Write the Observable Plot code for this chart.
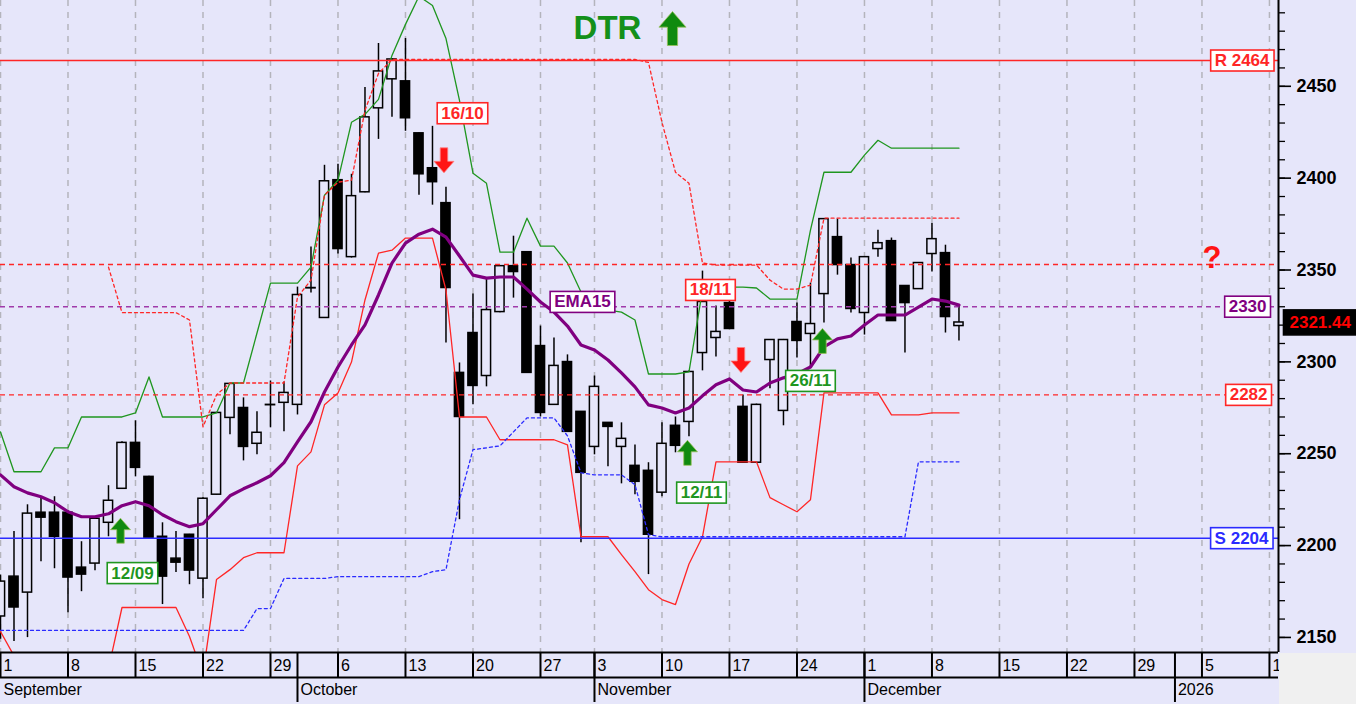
<!DOCTYPE html>
<html><head><meta charset="utf-8">
<script src="https://cdn.jsdelivr.net/npm/d3@7"></script>
<script src="https://cdn.jsdelivr.net/npm/@observablehq/plot@0.6"></script>
<style>
html,body{margin:0;padding:0;background:#f0f0f0;}
#chart svg{display:block;}
</style></head><body><div id="chart"></div>
<script>
// ---------------- DATA ----------------
const dates = ["2025-09-01","2025-09-02","2025-09-03","2025-09-04","2025-09-05","2025-09-08","2025-09-09","2025-09-10","2025-09-11","2025-09-12","2025-09-15","2025-09-16","2025-09-17","2025-09-18","2025-09-19","2025-09-22","2025-09-23","2025-09-24","2025-09-25","2025-09-26","2025-09-29","2025-09-30",
"2025-10-01","2025-10-02","2025-10-03","2025-10-06","2025-10-07","2025-10-08","2025-10-09","2025-10-10","2025-10-13","2025-10-14","2025-10-15","2025-10-16","2025-10-17","2025-10-20","2025-10-21","2025-10-22","2025-10-23","2025-10-24","2025-10-27","2025-10-28","2025-10-29","2025-10-30",
"2025-11-03","2025-11-04","2025-11-05","2025-11-06","2025-11-07","2025-11-10","2025-11-11","2025-11-12","2025-11-13","2025-11-14","2025-11-17","2025-11-18","2025-11-19","2025-11-20","2025-11-21","2025-11-24","2025-11-25","2025-11-26","2025-11-27","2025-11-28",
"2025-12-01","2025-12-02","2025-12-03","2025-12-04","2025-12-05","2025-12-08","2025-12-09","2025-12-10"];
const futureDates = ["2025-12-11","2025-12-12","2025-12-15","2025-12-16","2025-12-17","2025-12-18","2025-12-19","2025-12-22","2025-12-23","2025-12-24","2025-12-25","2025-12-26","2025-12-29","2025-12-30","2025-12-31","2026-01-01","2026-01-02","2026-01-05","2026-01-06","2026-01-07","2026-01-08","2026-01-09","2026-01-12"];

const open = [2161.4,2183.1,2174.4,2217.9,2217.9,2217.9,2188.0,2190.2,2212.4,2230.9,
2255.9,2237.4,2204.8,2192.9,2205.9,2182.0,2227.7,2269.5,2274.9,2255.4,
2276.6,2277.7,2276.6,2340.2,2323.9,2398.9,2357.0,2392.3,2438.0,2453.8,
2452.7,2424.4,2405.4,2386.4,2294.0,2315.7,2292.3,2327.1,2352.1,2359.7,
2308.6,2276.6,2299.9,2272.8,2253.7,2266.8,2253.7,2243.4,2240.7,2228.8,
2265.2,2267.3,2304.8,2313.0,2332.0,2275.5,2245.1,2301.0,2273.3,2321.7,
2315.2,2336.9,2367.9,2352.7,2326.6,2361.4,2365.7,2341.3,2339.6,2358.7,
2359.2,2319.5];
const high = [2184.0,2207.6,2222.2,2226.6,2226.6,2219.0,2202.1,2214.8,2232.6,2256.5,
2267.9,2237.8,2212.4,2207.6,2206.1,2226.0,2272.5,2288.2,2280.4,2272.8,
2289.6,2289.1,2340.7,2362.5,2407.0,2407.6,2402.1,2449.4,2473.3,2465.0,
2476.0,2424.6,2428.2,2395.1,2299.4,2336.9,2345.1,2352.5,2368.4,2360.0,
2319.5,2313.0,2303.8,2273.0,2292.3,2267.0,2266.8,2254.8,2245.1,2266.8,
2270.0,2295.0,2349.4,2330.4,2336.0,2282.0,2277.0,2312.2,2312.2,2332.0,
2342.9,2378.0,2377.7,2356.5,2357.3,2371.7,2367.4,2341.5,2354.0,2375.5,
2363.5,2330.4];
const low = [2149.0,2147.8,2149.9,2191.2,2187.4,2163.5,2174.9,2186.3,2204.8,2230.5,
2237.4,2204.0,2167.9,2185.3,2178.7,2171.1,2227.5,2260.3,2246.1,2249.4,
2264.1,2261.9,2271.1,2337.5,2323.7,2358.7,2356.5,2392.1,2421.1,2433.1,
2425.5,2390.7,2385.3,2310.3,2214.1,2276.6,2286.4,2326.8,2334.7,2293.8,
2270.0,2276.4,2261.6,2201.6,2249.4,2242.9,2233.6,2227.7,2184.2,2226.6,
2250.5,2259.2,2295.1,2302.7,2317.7,2245.0,2244.8,2285.3,2265.2,2302.1,
2297.2,2321.1,2347.2,2326.6,2314.6,2357.0,2322.0,2304.8,2339.4,2348.9,
2315.7,2311.4];
const close = [2180.4,2166.3,2217.4,2215.2,2204.8,2182.6,2184.2,2214.6,2224.4,2255.9,
2242.3,2204.3,2183.1,2190.7,2186.4,2225.5,2272.2,2288.0,2253.7,2261.4,
2276.4,2283.1,2336.4,2340.0,2398.3,2361.4,2390.2,2433.1,2458.1,2464.6,
2432.6,2402.1,2397.8,2340.2,2270.0,2286.9,2328.2,2352.1,2348.9,2294.0,
2272.2,2297.8,2261.9,2239.6,2286.4,2264.6,2258.1,2234.7,2205.9,2255.4,
2254.3,2294.5,2332.6,2316.3,2317.9,2245.1,2276.6,2311.9,2311.9,2311.4,
2320.6,2377.7,2352.7,2328.8,2357.0,2364.6,2322.2,2332.0,2353.8,2366.8,
2324.4,2321.44];

const ema15 = [2238.5,2232.0,2228.7,2226.6,2223.3,2218.4,2215.7,2215.7,2217.3,2221.7,
2223.9,2221.7,2216.8,2213.0,2210.3,2211.9,2219.5,2227.1,2230.9,2234.2,
2238.0,2245.1,2256.5,2267.4,2283.6,2297.2,2309.2,2320.1,2336.4,2353.8,
2364.6,2369.5,2372.2,2367.9,2357.6,2347.2,2345.6,2346.2,2346.2,2339.6,
2332.6,2327.1,2319.5,2309.2,2306.5,2301.0,2294.0,2286.4,2276.6,2274.9,
2272.2,2274.9,2281.5,2287.5,2290.7,2284.7,2283.6,2288.5,2291.3,2293.4,
2297.2,2308.1,2312.5,2314.1,2320.1,2325.5,2325.5,2325.5,2329.8,2334.2,
2333.1,2330.9];
const upperBand = [2261.9,2240.2,2240.2,2240.2,2253.2,2253.2,2270.0,2270.0,2270.0,2270.0,
2272.2,2291.8,2270.0,2270.0,2270.0,2270.0,2272.2,2288.5,2288.5,2315.7,
2342.9,2342.9,2342.9,2351.6,2390.7,2398.9,2430.4,2434.7,2442.9,2466.8,
2483.7,2499.0,2494.0,2476.0,2442.3,2402.7,2397.2,2359.7,2359.7,2378.2,
2363.0,2363.0,2353.8,2338.0,2333.7,2328.2,2327.1,2322.8,2293.4,2293.4,
2293.4,2294.5,2339.1,2340.7,2340.7,2340.7,2340.2,2334.2,2334.2,2334.2,
2371.7,2403.2,2403.2,2403.2,2412.5,2420.6,2416.3,2416.3,2416.3,2416.3,
2416.3,2416.3];
const lowerBand = [2153.2,2140.0,2125.0,2125.0,2125.0,2125.0,2125.0,2125.0,2133.0,2166.3,
2166.3,2166.3,2166.3,2166.3,2150.5,2130.0,2181.5,2186.9,2193.4,2196.1,
2196.1,2196.1,2243.4,2251.0,2276.6,2283.1,2299.9,2333.7,2359.2,2360.8,
2367.4,2367.4,2367.4,2339.1,2270.0,2270.0,2270.0,2257.6,2257.6,2257.6,
2257.6,2257.6,2254.8,2204.8,2204.8,2204.8,2195.1,2185.8,2176.0,2170.6,
2167.9,2190.0,2204.8,2245.6,2245.6,2245.6,2245.6,2226.1,2222.2,2218.4,
2225.0,2283.1,2283.1,2283.1,2283.1,2283.1,2271.1,2271.1,2271.1,2272.2,
2272.2,2272.2];
const highestClose = [null,null,null,null,null,null,null,null,2351.6,2326.8,
2326.8,2326.8,2326.8,2326.8,2322.8,2264.6,2282.0,2288.5,2288.5,2288.5,
2288.5,2288.5,2335.3,2344.5,2390.7,2397.8,2398.9,2436.9,2457.0,2464.6,
2464.6,2464.6,2464.6,2464.6,2464.6,2464.6,2464.6,2464.6,2464.6,2464.6,
2464.6,2464.6,2464.6,2464.6,2464.6,2464.6,2464.6,2464.6,2463.0,2430.4,
2403.2,2397.2,2353.8,2352.7,2352.7,2352.7,2352.7,2344.5,2339.6,2339.6,
2341.8,2378.2,2378.2,2378.2,2378.2,2378.2,2378.2,2378.2,2378.2,2378.2,
2378.2,2378.2];
const lowestClose = [2153.8,2153.8,2153.8,2153.8,2153.8,2153.8,2153.8,2153.8,2153.8,2153.8,
2153.8,2153.8,2153.8,2153.8,2153.8,2153.8,2153.8,2153.8,2153.8,2165.7,
2165.7,2182.1,2182.1,2182.1,2182.1,2183.1,2183.1,2183.1,2183.1,2183.1,
2183.1,2183.1,2185.8,2186.9,2225.0,2252.2,2253.2,2254.3,2261.9,2269.5,
2269.5,2269.5,2259.7,2239.6,2238.5,2238.5,2238.5,2233.1,2205.9,2204.8,
2204.8,2204.8,2204.8,2204.8,2204.8,2204.8,2204.8,2204.8,2204.8,2204.8,
2204.8,2204.8,2204.8,2204.8,2204.8,2204.8,2204.8,2204.8,2245.6,2245.6,
2245.6,2245.6];

// signals
const signalDates = ["2025-09-12","2025-10-16","2025-11-12","2025-11-18","2025-11-26"];
const signalTypes = ["buy","sell","buy","sell","buy"];
const signalArrowPrice = [2208.1, 2409.7, 2250.5, 2301.0, 2311.4];
const signalLabelPrice = [2185.0, 2435.3, 2228.8, 2339.1, 2289.6];

// horizontal levels
const resistance = 2464, support = 2204;
const upperLevel = 2353, lowerLevel = 2282, emaLevel = 2330;
const lastPrice = 2321.44;
const ticker = "DTR";
const emaName = "EMA15";
const emaLabelDate = "2025-10-30";
const emaLabelPrice = 2332.6;
const yTicksMajor = [2150, 2200, 2250, 2300, 2350, 2400, 2450];
const yDomain = [2141.8, 2496.7];

// ---------------- BUILD ----------------
const BG = "#e6e6fa";
const RED = "#ff2626", GREEN = "#1f961f", BLUE = "#2b2bff", PURPLE = "#800080";
const allDates = dates.concat(futureDates);
const idxOf = new Map(allDates.map((d, i) => [d, i]));
const parse = d3.utcParse("%Y-%m-%d");
const days = allDates.map((d, i) => ({i, t: parse(d)}));
const weekTicks = days.filter((d, k) => k === 0 || d.t.getUTCDay() < days[k-1].t.getUTCDay() || (d.t - days[k-1].t) >= 7 * 864e5)
  .map(d => ({i: d.i, label: String(d.t.getUTCDate())}));
const monthTicks = days.filter((d, k) => k === 0 || d.t.getUTCMonth() !== days[k-1].t.getUTCMonth())
  .map(d => ({i: d.i, label: d.t.getUTCMonth() === 0 ? String(d.t.getUTCFullYear()) : d3.utcFormat("%B")(d.t)}));

const rows = dates.map((d, i) => ({i, date: d, open: open[i], high: high[i], low: low[i], close: close[i],
  ema: ema15[i], upper: upperBand[i], lower: lowerBand[i], hc: highestClose[i], lc: lowestClose[i]}));
const signals = signalDates.map((d, k) => ({i: idxOf.get(d), type: signalTypes[k], arrow: signalArrowPrice[k],
  labelY: signalLabelPrice[k], label: d3.utcFormat("%d/%m")(parse(d))}));

function arrow(dir) {
  const pts = [[0,-1],[0.8,-0.08],[0.3,-0.08],[0.3,1],[-0.3,1],[-0.3,-0.08],[-0.8,-0.08]];
  return {draw(ctx, size) {
    const r = Math.sqrt(size / Math.PI);
    pts.forEach(([x, y], k) => k ? ctx.lineTo(x * r, dir * y * r) : ctx.moveTo(x * r, dir * y * r));
    ctx.closePath();
  }};
}
const upArrow = arrow(1), downArrow = arrow(-1);

const labelDx = {"12/09": 10.5, "16/10": 16.5, "12/11": 12.5, "18/11": -32.5, "26/11": -13.5};
const signalLabelMarks = signals.map(s => Plot.text([s], {
  x: "i", y: "labelY", text: "label", dx: labelDx[s.label],
  fill: s.type === "buy" ? GREEN : RED, fontWeight: "bold", fontSize: 17,
  className: s.type === "buy" ? "boxgreen" : "boxred"
}));

const xDomain = [0, allDates.length - 0.33];
const font = "'Liberation Sans', Arial, sans-serif";

const plot = Plot.plot({
  width: 1356, height: 704,
  marginLeft: 0, marginRight: 78, marginTop: 0, marginBottom: 52,
  style: {background: BG, fontFamily: font, fontSize: "15px"},
  x: {type: "linear", domain: xDomain, axis: null},
  y: {domain: yDomain, axis: null},
  marks: [
    // vertical weekly grid
    Plot.ruleX(weekTicks, {x: "i", stroke: "#b4b4bc", strokeWidth: 1.5, strokeDasharray: "6,6"}),
    // candles
    Plot.ruleX(rows, {x: "i", y1: "low", y2: "high", stroke: "#000", strokeWidth: 1.5}),
    Plot.rect(rows.filter(d => d.close >= d.open), {x1: d => d.i - 0.34, x2: d => d.i + 0.34, y1: "open", y2: "close", fill: BG, stroke: "#000", strokeWidth: 1.5}),
    Plot.rect(rows.filter(d => d.close < d.open), {x1: d => d.i - 0.34, x2: d => d.i + 0.34, y1: "open", y2: "close", fill: "#000", stroke: "#000", strokeWidth: 1.5}),
    // bands
    Plot.line(rows, {x: "i", y: "upper", stroke: GREEN, strokeWidth: 1.3, clip: true}),
    Plot.line(rows, {x: "i", y: "lower", stroke: RED, strokeWidth: 1.3, clip: true}),
    Plot.line(rows, {x: "i", y: "hc", stroke: RED, strokeWidth: 1.3, strokeDasharray: "3,3", clip: true}),
    Plot.line(rows, {x: "i", y: "lc", stroke: BLUE, strokeWidth: 1.3, strokeDasharray: "3,3", clip: true}),
    // horizontal levels
    Plot.ruleY([upperLevel, lowerLevel], {stroke: RED, strokeWidth: 1.3, strokeDasharray: "5,4"}),
    Plot.ruleY([emaLevel], {stroke: "#a03aaa", strokeWidth: 1.3, strokeDasharray: "5,4"}),
    Plot.ruleY([resistance], {stroke: RED, strokeWidth: 1.6}),
    Plot.ruleY([support], {stroke: BLUE, strokeWidth: 1.6}),
    // EMA
    Plot.line(rows, {x: "i", y: "ema", stroke: PURPLE, strokeWidth: 3.2, clip: true}),
    // signal arrows
    Plot.dot(signals.filter(s => s.type === "buy"), {x: "i", y: "arrow", dx: -1.5, symbol: upArrow, r: 12.5, fill: "#108a10", stroke: "#9bc25a", strokeWidth: 0.8}),
    Plot.dot(signals.filter(s => s.type === "sell"), {x: "i", y: "arrow", dx: -2, symbol: downArrow, r: 12.5, fill: "#ff1414", stroke: "#ff8080", strokeWidth: 0.8}),
    ...signalLabelMarks,
    Plot.text([emaName], {x: [idxOf.get(emaLabelDate)], y: [emaLabelPrice], text: d => d, dx: 1.5, fill: PURPLE, fontWeight: "bold", fontSize: 17, className: "boxpurple"}),
    // level labels on the right
    Plot.text(["R " + resistance], {y: [resistance], text: d => d, frameAnchor: "right", textAnchor: "end", dx: -9, fill: RED, fontWeight: "bold", fontSize: 17, className: "boxred"}),
    Plot.text([String(emaLevel)], {y: [emaLevel], text: d => d, frameAnchor: "right", textAnchor: "end", dx: -12, fill: PURPLE, fontWeight: "bold", fontSize: 17, className: "boxpurple"}),
    Plot.text([String(lowerLevel)], {y: [lowerLevel], text: d => d, frameAnchor: "right", textAnchor: "end", dx: -11, fill: RED, fontWeight: "bold", fontSize: 17, className: "boxred"}),
    Plot.text(["S " + support], {y: [support], text: d => d, frameAnchor: "right", textAnchor: "end", dx: -10, fill: BLUE, fontWeight: "bold", fontSize: 17, className: "boxblue"}),
    Plot.text(["?"], {y: [upperLevel], text: d => d, frameAnchor: "right", lineAnchor: "middle", dx: -57, dy: -6, fill: "#ff1414", fontWeight: "900", fontSize: 31}),
    // title
    Plot.text([ticker], {frameAnchor: "top", lineAnchor: "middle", text: d => d, dx: -32, dy: 28, fill: "#14901a", fontWeight: "bold", fontSize: 33}),
    Plot.dot([ticker], {frameAnchor: "top", dx: 33, dy: 28, symbol: upArrow, r: 17, fill: "#0f8a0f", stroke: "#9bc25a", strokeWidth: 0.8}),
    // y axis
    Plot.ruleX([xDomain[1]], {stroke: "#000", strokeWidth: 2}),
    Plot.axisY(d3.range(2150, 2491, 10), {anchor: "right", tickSize: 6, tickFormat: () => "", stroke: "#000", strokeWidth: 1.3, label: null}),
    Plot.axisY(yTicksMajor, {anchor: "right", tickSize: 12, tickPadding: 6, tickFormat: d => String(d), stroke: "#000", strokeWidth: 1.6, fontSize: 18, fontWeight: "bold", fill: "#000", label: null}),
    Plot.text([lastPrice], {y: d => d, text: d => d.toFixed(2), frameAnchor: "right", textAnchor: "start", lineAnchor: "middle", dx: 11, fill: "#ff0000", fontWeight: "bold", fontSize: 17, className: "boxprice"}),
    // x axis band (two rows)
    Plot.ruleY([yDomain[0]], {stroke: "#000", strokeWidth: 2}),
    Plot.ruleY([yDomain[0]], {dy: 25, stroke: "#000", strokeWidth: 2}),
    Plot.ruleX(weekTicks, {x: "i", insetTop: 652, insetBottom: -25, stroke: "#000", strokeWidth: 2}),
    Plot.ruleX(monthTicks.slice(1), {x: "i", insetTop: 652, insetBottom: -50, stroke: "#000", strokeWidth: 2}),
    Plot.text(weekTicks, {x: "i", text: "label", frameAnchor: "bottom", lineAnchor: "middle", textAnchor: "start", dx: 3, dy: 13, fontSize: 16, fill: "#000"}),
    Plot.text(monthTicks, {x: "i", text: "label", frameAnchor: "bottom", lineAnchor: "middle", textAnchor: "start", dx: 3, dy: 37, fontSize: 16, fill: "#000"})
  ]
});
document.getElementById("chart").appendChild(plot);

// boxes behind annotation texts
const NS = "http://www.w3.org/2000/svg";
const boxStyles = {
  boxred: {fill: "#fff", stroke: RED, px: 4, py: 1, extendRight: 0},
  boxgreen: {fill: "#fff", stroke: GREEN, px: 4, py: 1, extendRight: 0},
  boxpurple: {fill: "#fff", stroke: PURPLE, px: 4, py: 1, extendRight: 0},
  boxblue: {fill: "#fff", stroke: BLUE, px: 4, py: 1, extendRight: 0},
  boxprice: {fill: "#000", stroke: "#000", px: 6, py: 3, extendRight: 20}
};
for (const [cls, st] of Object.entries(boxStyles)) {
  plot.querySelectorAll(`g.${cls} text`).forEach(t => {
    const b = t.getBBox();
    const r = document.createElementNS(NS, "rect");
    r.setAttribute("x", b.x - st.px);
    r.setAttribute("y", b.y - st.py);
    r.setAttribute("width", b.width + 2 * st.px + st.extendRight);
    r.setAttribute("height", b.height + 2 * st.py);
    r.setAttribute("fill", st.fill);
    r.setAttribute("stroke", st.stroke);
    r.setAttribute("stroke-width", 1.6);
    if (t.getAttribute("transform")) r.setAttribute("transform", t.getAttribute("transform"));
    t.parentNode.insertBefore(r, t);
  });
}
// neutral corner below the price axis
const corner = document.createElementNS(NS, "rect");
corner.setAttribute("x", 1279); corner.setAttribute("y", 653);
corner.setAttribute("width", 80); corner.setAttribute("height", 60);
corner.setAttribute("fill", "#f0f0f0");
plot.appendChild(corner);
</script>
</body></html>
